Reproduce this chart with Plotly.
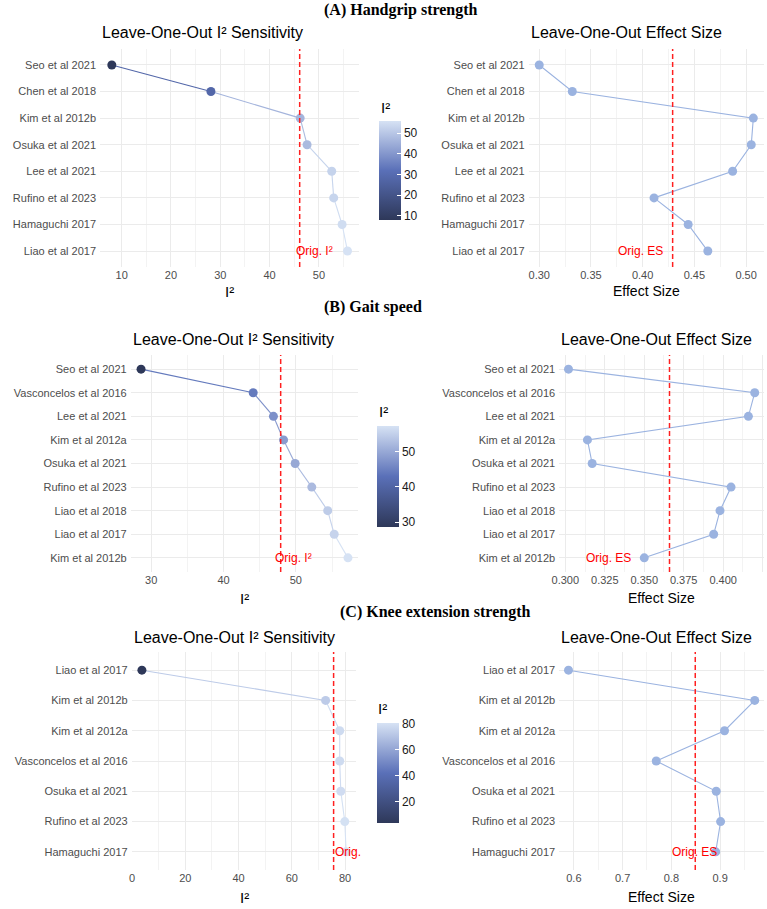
import plotly.graph_objects as go

# ---------------- data ----------------
A_studies = ["Seo et al 2021", "Chen et al 2018", "Kim et al 2012b", "Osuka et al 2021",
             "Lee et al 2021", "Rufino et al 2023", "Hamaguchi 2017", "Liao et al 2017"]
A_i2 = [8.0, 28.1, 46.2, 47.6, 52.6, 53.0, 54.7, 55.8]
A_es = [0.300, 0.332, 0.507, 0.505, 0.487, 0.411, 0.444, 0.463]
A_orig_i2 = 46.1
A_orig_es = 0.429

B_studies = ["Seo et al 2021", "Vasconcelos et al 2016", "Lee et al 2021", "Kim et al 2012a",
             "Osuka et al 2021", "Rufino et al 2023", "Liao et al 2018", "Liao et al 2017",
             "Kim et al 2012b"]
B_i2 = [28.6, 44.1, 46.9, 48.3, 49.9, 52.2, 54.4, 55.3, 57.2]
B_es = [0.302, 0.420, 0.416, 0.314, 0.317, 0.405, 0.398, 0.394, 0.350]
B_orig_i2 = 47.9
B_orig_es = 0.366

C_studies = ["Liao et al 2017", "Kim et al 2012b", "Kim et al 2012a", "Vasconcelos et al 2016",
             "Osuka et al 2021", "Rufino et al 2023", "Hamaguchi 2017"]
C_i2 = [3.7, 72.7, 78.0, 78.0, 78.4, 79.9, 80.4]
C_es = [0.589, 0.971, 0.909, 0.769, 0.892, 0.901, 0.891]
C_orig_i2 = 75.7
C_orig_es = 0.849

ROW_TITLES = ["(A) Handgrip strength", "(B) Gait speed", "(C) Knee extension strength"]

# ---------------- style ----------------
W, H = 767, 909
CSCALE = [[0.0, "#2e3859"], [0.5, "#5a70b8"], [1.0, "#d6e2f4"]]
ES_COLOR = "#9bb3e0"
GRID = "#ebebeb"
MINOR = "#f3f3f3"
FONT = "Liberation Sans"
TICKC = "#4d4d4d"


def hex2rgb(h):
    h = h.lstrip("#")
    return tuple(int(h[i:i + 2], 16) for i in (0, 2, 4))


def cmap(t):
    t = min(max(t, 0.0), 1.0)
    for (t0, c0), (t1, c1) in zip(CSCALE[:-1], CSCALE[1:]):
        if t <= t1:
            f = (t - t0) / (t1 - t0) if t1 > t0 else 0
            a, b = hex2rgb(c0), hex2rgb(c1)
            return "rgb(%d,%d,%d)" % tuple(round(a[i] + f * (b[i] - a[i])) for i in range(3))
    return CSCALE[-1][1]


def xd(p0, p1):
    return [p0 / W, p1 / W]


def yd(top, bottom):
    return [1 - bottom / H, 1 - top / H]


def expand(vals, frac=0.05):
    lo, hi = min(vals), max(vals)
    pad = (hi - lo) * frac
    return [lo - pad, hi + pad]


rows = [
    dict(studies=A_studies, i2=A_i2, es=A_es, oi=A_orig_i2, oe=A_orig_es,
         lx=(93, 355), rx=(526, 764), y=(49, 267),
         ldt=10, lminor=5, lfmt="", rdt=0.05, rminor=0.025, rfmt=".2f",
         cb=dict(x=375, yc=170.5, len=99, dt=10), cbt=(375, 107),
         title=(317, 10), ptitle=33, axt=291,
         lann=dict(anchor="left", shift=-6, text="Orig. I²"),
         rann=dict(anchor="right", shift=-8, text="Orig. ES")),
    dict(studies=B_studies, i2=B_i2, es=B_es, oi=B_orig_i2, oe=B_orig_es,
         lx=(124, 354), rx=(557, 764), y=(355, 572),
         ldt=10, lminor=5, lfmt="", rdt=0.025, rminor=0.0125, rfmt=".3f",
         cb=dict(x=373, yc=476.5, len=101, dt=10), cbt=(373, 411),
         title=(317, 307), ptitle=340, axt=598,
         lann=dict(anchor="left", shift=-8, text="Orig. I²"),
         rann=dict(anchor="right", shift=-37, text="Orig. ES")),
    dict(studies=C_studies, i2=C_i2, es=C_es, oi=C_orig_i2, oe=C_orig_es,
         lx=(125, 352), rx=(557, 764), y=(652, 870),
         ldt=20, lminor=10, lfmt="", rdt=0.1, rminor=0.05, rfmt=".1f",
         cb=dict(x=373, yc=773, len=100, dt=20), cbt=(372, 708),
         title=(333, 612), ptitle=637, axt=897,
         lann=dict(anchor="left", shift=-1, text="Orig."),
         rann=dict(anchor="left", shift=-25, text="Orig. ES")),
]

fig = go.Figure()
layout = dict(width=W, height=H, margin=dict(l=0, r=0, t=0, b=0),
              paper_bgcolor="white", plot_bgcolor="white", showlegend=False,
              font=dict(family=FONT, size=12, color="#000000"))
annotations = []
shapes = []

for r, row in enumerate(rows):
    studies = row["studies"]
    n = len(studies)
    i2 = row["i2"]
    lo, hi = min(i2), max(i2)
    ca = "coloraxis" if r == 0 else "coloraxis%d" % (r + 1)
    ax_l = 2 * r + 1
    ax_r = 2 * r + 2
    xl = "x" if ax_l == 1 else "x%d" % ax_l
    yl = "y" if ax_l == 1 else "y%d" % ax_l
    xr = "x%d" % ax_r
    yr = "y%d" % ax_r

    # left panel: coloured line segments + points
    order = sorted(range(n), key=lambda k: i2[k])
    for a, b in zip(order[:-1], order[1:]):
        col = cmap((i2[b] - lo) / (hi - lo))
        fig.add_trace(go.Scatter(x=[i2[a], i2[b]], y=[studies[a], studies[b]], mode="lines",
                                 line=dict(color=col, width=1.1), xaxis=xl, yaxis=yl,
                                 hoverinfo="skip"))
    fig.add_trace(go.Scatter(x=i2, y=studies, mode="markers", xaxis=xl, yaxis=yl,
                             marker=dict(size=9, color=i2, coloraxis=ca)))

    # right panel
    fig.add_trace(go.Scatter(x=row["es"], y=studies, mode="lines+markers", xaxis=xr, yaxis=yr,
                             line=dict(color=ES_COLOR, width=1.1),
                             marker=dict(size=9, color=ES_COLOR)))

    cb = row["cb"]
    layout[ca] = dict(
        colorscale=CSCALE, cmin=lo, cmax=hi,
        colorbar=dict(x=cb["x"] / W, xanchor="left", y=1 - cb["yc"] / H, yanchor="middle",
                      len=cb["len"], lenmode="pixels", thickness=22, thicknessmode="pixels",
                      xpad=0, ypad=0, outlinewidth=0,
                      tick0=0, dtick=cb["dt"], ticks="inside", ticklen=4, tickcolor="white",
                      tickfont=dict(family=FONT, size=12, color="#1a1a1a")))

    yrange = [n - 1 + 0.6, -0.6]
    for axn, xdom, dt, mn, fmt, vals in [
        (ax_l, row["lx"], row["ldt"], row["lminor"], row["lfmt"], i2),
        (ax_r, row["rx"], row["rdt"], row["rminor"], row["rfmt"], row["es"]),
    ]:
        xkey = "xaxis" if axn == 1 else "xaxis%d" % axn
        ykey = "yaxis" if axn == 1 else "yaxis%d" % axn
        xs = "x" if axn == 1 else "x%d" % axn
        ys = "y" if axn == 1 else "y%d" % axn
        layout[xkey] = dict(domain=xd(*xdom), anchor=ys, range=expand(vals), tick0=0, dtick=dt,
                            tickformat=fmt, showgrid=True, gridcolor=GRID, gridwidth=1,
                            zeroline=False, showline=False, ticks="",
                            tickfont=dict(family=FONT, size=11, color=TICKC),
                            minor=dict(dtick=mn, tick0=0, showgrid=True, gridcolor=MINOR,
                                       gridwidth=0.6),
                            fixedrange=True)
        layout[ykey] = dict(domain=yd(*row["y"]), anchor=xs, type="category",
                            categoryorder="array", categoryarray=studies, range=yrange,
                            showgrid=True, gridcolor=GRID, gridwidth=1, zeroline=False,
                            showline=False, ticks="", ticklabelstandoff=3,
                            tickfont=dict(family=FONT, size=11, color=TICKC),
                            fixedrange=True)

    # reference lines
    for xs, ys, val, ann in [(xl, yl, row["oi"], row["lann"]), (xr, yr, row["oe"], row["rann"])]:
        shapes.append(dict(type="line", xref=xs, yref=ys + " domain", x0=val, x1=val, y0=0, y1=1,
                           line=dict(color="#ff2020", width=1.5, dash="5px,3px")))
        annotations.append(dict(text=ann["text"], x=val, y=studies[-1], xref=xs, yref=ys,
                                xanchor=ann["anchor"], yanchor="middle", xshift=ann["shift"],
                                showarrow=False,
                                font=dict(family=FONT, size=12, color="#ff0000")))

    # row title
    annotations.append(dict(text="<b>%s</b>" % ROW_TITLES[r], x=row["title"][0] / W,
                            y=1 - row["title"][1] / H, xref="paper", yref="paper",
                            xanchor="left", yanchor="middle", showarrow=False,
                            font=dict(family="Liberation Serif", size=16, color="#000000")))
    # panel titles
    annotations.append(dict(text="Leave-One-Out I² Sensitivity", x=row["lx"][0] / W,
                            y=1 - row["ptitle"] / H, xref="paper", yref="paper",
                            xanchor="left", yanchor="middle", showarrow=False,
                            font=dict(family=FONT, size=16, color="#000000")))
    annotations.append(dict(text="Leave-One-Out Effect Size", x=row["rx"][0] / W,
                            y=1 - row["ptitle"] / H, xref="paper", yref="paper",
                            xanchor="left", yanchor="middle", showarrow=False,
                            font=dict(family=FONT, size=16, color="#000000")))
    # axis titles
    annotations.append(dict(text="I²", x=(row["lx"][0] + row["lx"][1]) / 2 / W,
                            y=1 - row["axt"] / H, xref="paper", yref="paper",
                            xanchor="center", yanchor="middle", showarrow=False,
                            font=dict(family=FONT, size=15, color="#000000")))
    annotations.append(dict(text="Effect Size", x=(row["rx"][0] + row["rx"][1]) / 2 / W,
                            y=1 - row["axt"] / H, xref="paper", yref="paper",
                            xanchor="center", yanchor="middle", showarrow=False,
                            font=dict(family=FONT, size=14, color="#000000")))
    # colour bar title
    annotations.append(dict(text="I²", x=row["cbt"][0] / W, y=1 - row["cbt"][1] / H,
                            xref="paper", yref="paper", xanchor="left", yanchor="middle",
                            showarrow=False, font=dict(family=FONT, size=15, color="#000000")))

layout["annotations"] = annotations
layout["shapes"] = shapes
fig.update_layout(**layout)
fig.write_html("out.html")
